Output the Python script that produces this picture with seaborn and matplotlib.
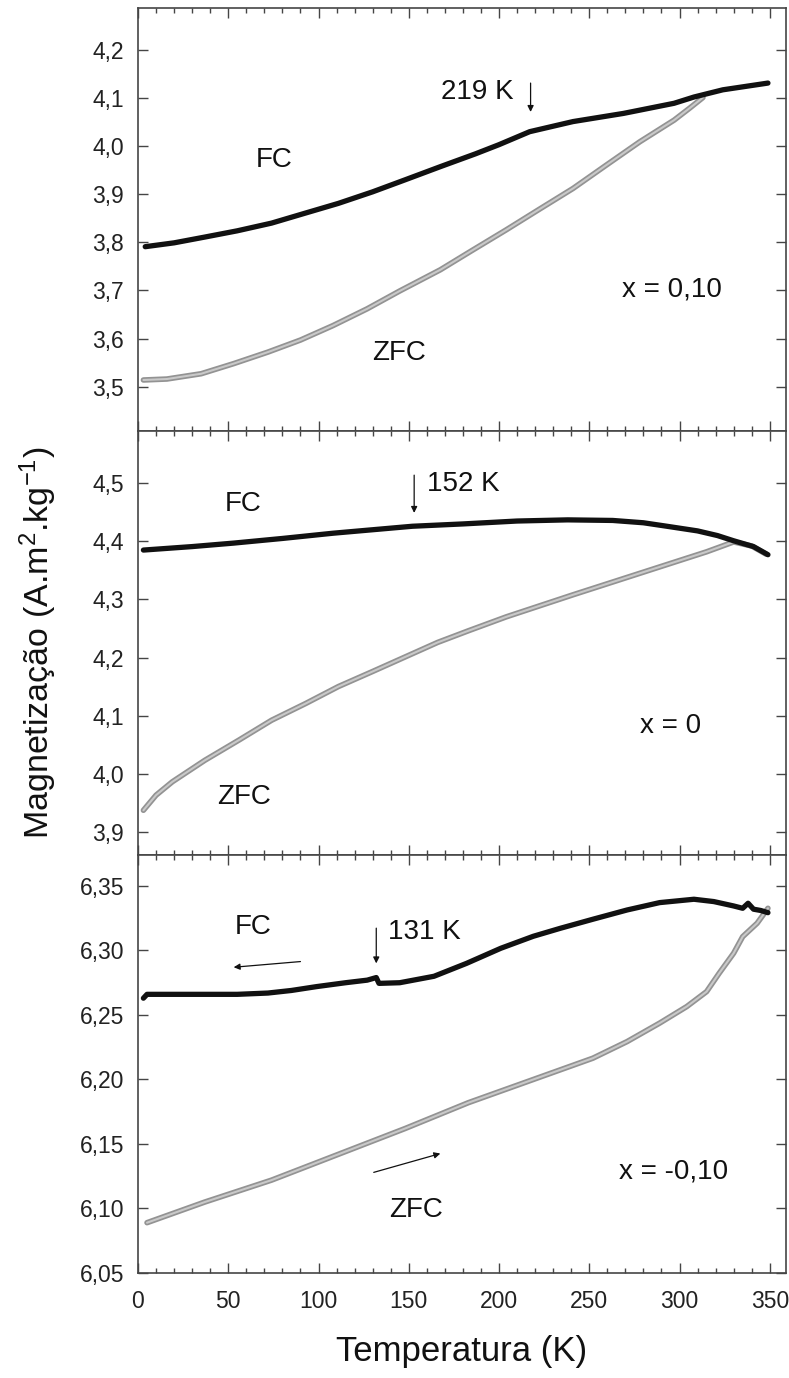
import numpy as np
import matplotlib
matplotlib.use("Agg")
import matplotlib.pyplot as plt
import seaborn as sns
from matplotlib.ticker import MultipleLocator, FuncFormatter

sns.set_style("ticks")
plt.rcParams['font.family'] = ['Liberation Sans', 'DejaVu Sans']
plt.rcParams['mathtext.fontset'] = 'custom'
plt.rcParams['mathtext.rm'] = 'Liberation Sans'
plt.rcParams['mathtext.it'] = 'Liberation Sans'

# ---------------- data ----------------
# Panel x = 0,10
fc1_T = [4, 20, 37, 55, 74, 92, 111, 130, 148, 168, 187, 200, 217, 241, 269, 297, 308, 324, 349]
fc1_M = [3.791, 3.799, 3.811, 3.824, 3.840, 3.860, 3.881, 3.905, 3.930, 3.958, 3.984, 4.003,
         4.030, 4.051, 4.068, 4.089, 4.102, 4.117, 4.131]
zfc1_T = [3, 16, 35, 53, 72, 90, 108, 127, 145, 167.5, 185, 204, 222, 241, 260, 278, 297, 306, 313]
zfc1_M = [3.514, 3.516, 3.527, 3.548, 3.572, 3.597, 3.627, 3.662, 3.699, 3.743, 3.783, 3.826,
          3.868, 3.912, 3.962, 4.009, 4.054, 4.080, 4.101]

# Panel x = 0
fc2_T = [3, 30, 53, 80, 108, 130, 152, 180, 210, 238, 263, 280, 293, 310, 321, 330, 341, 349]
fc2_M = [4.385, 4.391, 4.397, 4.405, 4.414, 4.420, 4.426, 4.430, 4.435, 4.437, 4.436, 4.432,
         4.426, 4.418, 4.410, 4.401, 4.391, 4.377]
zfc2_T = [3, 10, 19, 37, 56, 74, 93, 111, 130, 148, 166, 183, 204, 241, 278, 315, 330, 340, 348]
zfc2_M = [3.937, 3.963, 3.986, 4.023, 4.058, 4.092, 4.121, 4.150, 4.176, 4.201, 4.226, 4.246,
          4.270, 4.308, 4.345, 4.382, 4.399, 4.392, 4.378]

# Panel x = -0,10
fc3_T = [3, 5, 20, 35, 55, 72, 85, 99, 115, 127, 132, 133.5, 145, 164, 182, 201, 219, 234, 252,
         271, 289, 308, 319, 330, 335, 338, 341, 345, 349]
fc3_M = [6.263, 6.266, 6.266, 6.266, 6.266, 6.267, 6.269, 6.272, 6.275, 6.277, 6.279, 6.2745,
         6.275, 6.280, 6.290, 6.3017, 6.311, 6.3172, 6.3242, 6.3314, 6.3371, 6.3397, 6.3379,
         6.3345, 6.3327, 6.3366, 6.332, 6.331, 6.3293]
zfc3_T = [5, 37, 74, 111, 148, 183, 219, 234, 252, 271, 289, 304, 315, 322, 330, 335, 343, 349]
zfc3_M = [6.089, 6.105, 6.122, 6.142, 6.162, 6.182, 6.200, 6.2075, 6.2165, 6.2294, 6.2437,
          6.2565, 6.2681, 6.2824, 6.2979, 6.3107, 6.3211, 6.3327]

x_ticks = [0, 50, 100, 150, 200, 250, 300, 350]
panel_labels = ["x = 0,10", "x = 0", "x = -0,10"]

# ---------------- figure ----------------
W, H = 789, 1378
fig = plt.figure(figsize=(W / 100, H / 100), dpi=100)
L, R = 138 / W, 786 / W
bounds = [(8, 431), (431, 855), (855, 1273)]
axes = []
for top, bot in bounds:
    ax = fig.add_axes([L, 1 - bot / H, R - L, (bot - top) / H])
    axes.append(ax)

spine_c = '#454545'
zfc_edge = '#939393'
zfc_in = '#c9c9c9'
fc_c = '#111111'

panels = [
    (fc1_T, fc1_M, zfc1_T, zfc1_M, (3.408, 4.287), np.arange(3.5, 4.21, 0.1), 1),
    (fc2_T, fc2_M, zfc2_T, zfc2_M, (3.860, 4.590), np.arange(3.9, 4.51, 0.1), 1),
    (fc3_T, fc3_M, zfc3_T, zfc3_M, (6.050, 6.374), np.arange(6.05, 6.351, 0.05), 2),
]

for i, (ax, (fT, fM, zT, zM, ylim, yt, nd)) in enumerate(zip(axes, panels)):
    sns.lineplot(x=zT, y=zM, ax=ax, color=zfc_edge, lw=4.0, estimator=None, solid_capstyle='round')
    sns.lineplot(x=zT, y=zM, ax=ax, color=zfc_in, lw=1.5, estimator=None)
    sns.lineplot(x=fT, y=fM, ax=ax, color=fc_c, lw=3.8, estimator=None, solid_capstyle='round')
    ax.set_xlim(0, 359)
    ax.set_ylim(*ylim)
    ax.set_yticks(yt)
    ax.yaxis.set_major_formatter(FuncFormatter(lambda v, p, nd=nd: f"{v:.{nd}f}".replace('.', ',')))
    ax.set_xticks(x_ticks)
    ax.xaxis.set_minor_locator(MultipleLocator(10))
    ax.tick_params(which='both', direction='in', top=True, right=True, colors=spine_c,
                   labelcolor='#222222', labelsize=16.5, width=1.0)
    ax.tick_params(which='major', length=7, pad=10)
    ax.tick_params(which='minor', length=3.5)
    ax.tick_params(axis='x', pad=12)
    if i < 2:
        ax.tick_params(axis='x', labelbottom=False)
    for s in ax.spines.values():
        s.set_color(spine_c)
        s.set_linewidth(1.2)
    ax.set_xlabel('')
    ax.set_ylabel('')

ann = dict(fontsize=20, color='#111111', ha='center', va='center')
arr = dict(arrowstyle='-|>', color='#111111', lw=0.9, mutation_scale=9, shrinkA=0, shrinkB=0)

# panel 1
a = axes[0]
a.text(75.6, 3.971, "FC", **ann)
a.text(144.8, 3.570, "ZFC", **ann)
a.text(188, 4.113, "219 K", **ann)
a.annotate('', xy=(217.5, 4.071), xytext=(217.5, 4.131), arrowprops=arr)
a.text(296, 3.703, panel_labels[0], **ann)

# panel 2
a = axes[1]
a.text(58.5, 4.464, "FC", **ann)
a.text(59, 3.960, "ZFC", **ann)
a.text(180, 4.499, "152 K", **ann)
a.annotate('', xy=(153, 4.449), xytext=(153, 4.514), arrowprops=arr)
a.text(295, 4.082, panel_labels[1], **ann)

# panel 3
a = axes[2]
a.text(64, 6.318, "FC", **ann)
a.annotate('', xy=(53, 6.287), xytext=(90, 6.2914), arrowprops=arr)
a.text(158.6, 6.3146, "131 K", **ann)
a.annotate('', xy=(132, 6.290), xytext=(132, 6.3173), arrowprops=arr)
a.text(154, 6.099, "ZFC", **ann)
a.annotate('', xy=(167.5, 6.1426), xytext=(130.6, 6.128), arrowprops=arr)
a.text(296.5, 6.129, panel_labels[2], **ann)

fig.text(38 / W, 1 - 643 / H, "Magnetização (A.m$^{2}$.kg$^{-1}$)", rotation=90,
         fontsize=24.5, ha='center', va='center', color='#111111')
fig.text((138 + 786) / 2 / W, 1 - 1352 / H, "Temperatura (K)", fontsize=25,
         ha='center', va='center', color='#111111')

fig.savefig('out.png', dpi=100)
